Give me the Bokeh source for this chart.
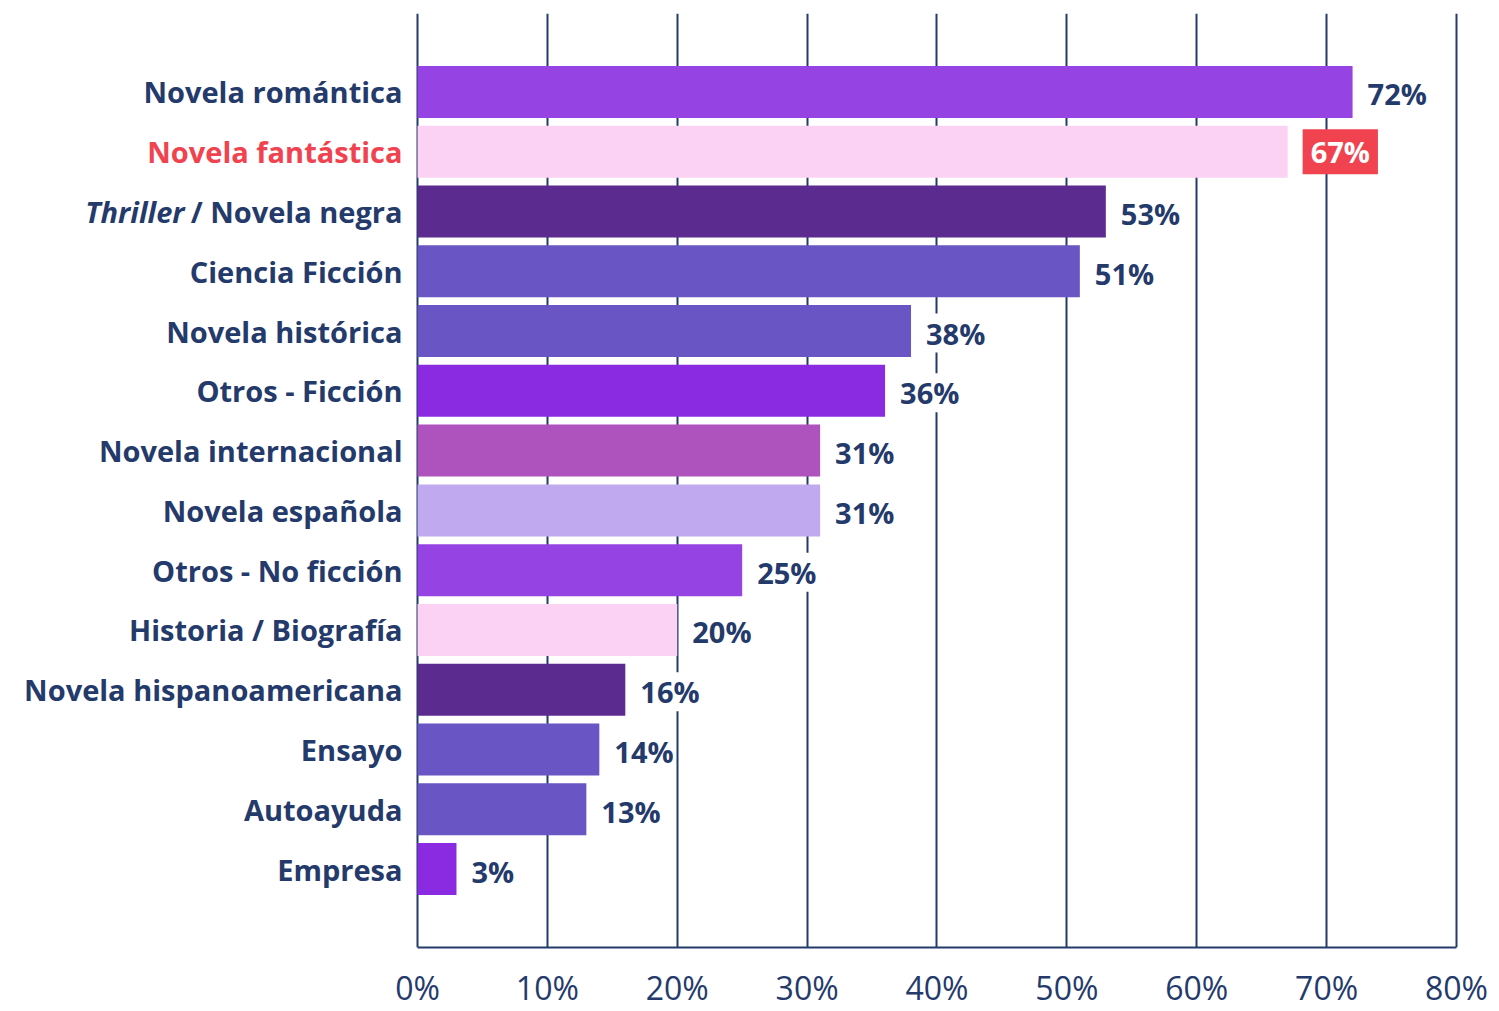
from bokeh.plotting import figure
from bokeh.models import ColumnDataSource, Label, FactorRange, Range1d, FixedTicker
from bokeh.core.properties import value
from bokeh.embed import file_html
from bokeh.resources import INLINE

categories = ["Novela romántica", "Novela fantástica", "Thriller / Novela negra",
              "Ciencia Ficción", "Novela histórica", "Otros - Ficción",
              "Novela internacional", "Novela española", "Otros - No ficción",
              "Historia / Biografía", "Novela hispanoamericana", "Ensayo",
              "Autoayuda", "Empresa"]
values = [72, 67, 53, 51, 38, 36, 31, 31, 25, 20, 16, 14, 13, 3]
bar_colors = ["#9643e4", "#fbd2f3", "#5b2b90", "#6955c4", "#6955c4", "#8a2be2",
              "#ae52bd", "#c0a9ee", "#9643e4", "#fbd2f3", "#5b2b90", "#6955c4",
              "#6955c4", "#8a2be2"]
highlight = "Novela fantástica"
italic_part = "Thriller"
x_ticks = [0, 10, 20, 30, 40, 50, 60, 70, 80]
tick_labels = ["0%", "10%", "20%", "30%", "40%", "50%", "60%", "70%", "80%"]

NAVY = "#243a6b"
RED = "#f0434f"
FONT = "Open Sans"

label_texts = []
label_colors = []
val_texts = []
for c, v in zip(categories, values):
    if c.startswith(italic_part):
        label_texts.append(c[len(italic_part):].strip())
    else:
        label_texts.append(c)
    label_colors.append(RED if c == highlight else NAVY)
    val_texts.append("" if c == highlight else f"{v}%")

src = ColumnDataSource(dict(cat=categories, val=values, color=bar_colors,
                            zero=[0] * len(categories), ltext=label_texts,
                            lcolor=label_colors, vtext=val_texts))

# frame spans the whole canvas width so the category labels can live inside it
p = figure(width=1499, height=1011,
           y_range=FactorRange(*reversed(categories), range_padding=0.116),
           x_range=Range1d(-32.11, 80.31),
           output_backend="svg", toolbar_location=None,
           min_border_left=0, min_border_right=39, min_border_top=13,
           min_border_bottom=10)
p.outline_line_color = None
p.background_fill_color = "white"

p.hbar(y="cat", left=0, right="val", height=0.87, color="color",
       line_color=None, source=src)

p.yaxis.visible = False
p.ygrid.visible = False
p.xgrid.ticker = FixedTicker(ticks=x_ticks)
p.xgrid.grid_line_color = NAVY
p.xgrid.grid_line_width = 2
p.xgrid.level = "underlay"

xa = p.xaxis[0]
xa.ticker = FixedTicker(ticks=x_ticks)
xa.bounds = (x_ticks[0], x_ticks[-1])
xa.major_label_overrides = {t: l for t, l in zip(x_ticks, tick_labels)}
xa.major_tick_line_color = None
xa.minor_tick_line_color = None
xa.axis_line_color = NAVY
xa.axis_line_width = 2
xa.major_label_text_font = FONT
xa.major_label_text_font_size = "32px"
xa.major_label_text_color = NAVY
xa.major_label_text_font_style = "normal"
xa.major_label_standoff = 12

# category labels
p.text(x="zero", y="cat", text="ltext", source=src, x_offset=-15,
       text_align="right", text_baseline="middle", text_color="lcolor",
       text_font=value(FONT), text_font_size="29px", text_font_style="bold")

ital_src = ColumnDataSource(dict(cat=[c for c in categories if c.startswith(italic_part)],
                                 zero=[0], t=[italic_part]))
p.text(x="zero", y="cat", text="t", source=ital_src, x_offset=-233,
       text_align="right", text_baseline="middle", text_color=NAVY,
       text_font=value(FONT), text_font_size="29px", text_font_style="bold italic")

# value labels
p.text(x="val", y="cat", text="vtext", source=src, x_offset=15, y_offset=2,
       text_align="left", text_baseline="middle", text_color=NAVY,
       text_font=value(FONT), text_font_size="29px", text_font_style="bold",
       background_fill_color="white")

hi_idx = categories.index(highlight)
hi_y = len(categories) - hi_idx - 0.5  # synthetic coordinate of the factor centre
hl = Label(x=values[hi_idx], y=hi_y, text=f"{values[hi_idx]}%",
           x_offset=15, text_align="left", text_baseline="middle",
           text_color="white", text_font=FONT, text_font_size="29px",
           text_font_style="bold", background_fill_color=RED, padding=(8, 3))
p.add_layout(hl)

open("out.html", "w").write(file_html(p, INLINE))
